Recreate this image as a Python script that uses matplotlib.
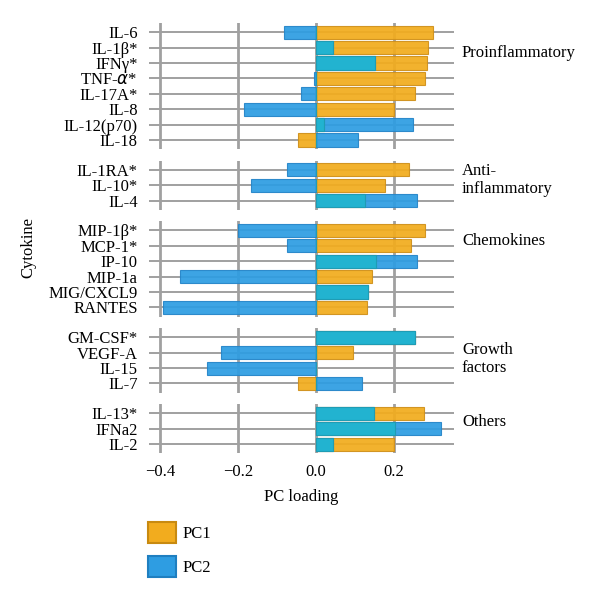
import numpy as np
import matplotlib.pyplot as plt
from matplotlib.patches import Patch

plt.rcParams['font.family'] = ['Liberation Serif', 'DejaVu Serif']
plt.rcParams['font.size'] = 12

# cytokine groups, top to bottom
groups = ['Proinflammatory', 'Anti-\ninflammatory', 'Chemokines', 'Growth\nfactors', 'Others']
labels = [
    ['IL-6', 'IL-1β*', 'IFNγ*', 'TNF-$\\alpha$*', 'IL-17A*', 'IL-8', 'IL-12(p70)', 'IL-18'],
    ['IL-1RA*', 'IL-10*', 'IL-4'],
    ['MIP-1β*', 'MCP-1*', 'IP-10', 'MIP-1a', 'MIG/CXCL9', 'RANTES'],
    ['GM-CSF*', 'VEGF-A', 'IL-15', 'IL-7'],
    ['IL-13*', 'IFNa2', 'IL-2'],
]
pc1 = [
    [0.300, 0.287, 0.285, 0.280, 0.254, 0.200, 0.021, -0.045],
    [0.238, 0.178, 0.126],
    [0.280, 0.244, 0.155, 0.145, 0.133, 0.131],
    [0.254, 0.095, 0.0, -0.045],
    [0.277, 0.203, 0.200],
]
pc2 = [
    [-0.082, 0.044, 0.151, -0.005, -0.039, -0.184, 0.248, 0.107],
    [-0.074, -0.167, 0.260],
    [-0.200, -0.073, 0.258, -0.349, 0.133, -0.392],
    [0.254, -0.244, -0.279, 0.117],
    [0.149, 0.320, 0.043],
]
# y position (in rows) of each group name
group_label_y = [1.35, 0.67, 0.71, 1.43, 0.54]

c_pc1 = '#F2AC1E'
c_pc2 = '#2E9DE2'
c_both = '#22B3D0'

W, H = 600, 605
fig = plt.figure(figsize=(W / 100, H / 100), dpi=100)

row = 15.39
top = 23.0
gap = 11.4
left, right = 149, 454

for gi, name in enumerate(groups):
    n = len(labels[gi])
    h = (n + 0.2) * row
    ax = fig.add_axes([left / W, 1 - (top + h) / H, (right - left) / W, h / H])
    top += h + gap

    y = np.arange(n)
    a = np.array(pc1[gi])
    b = np.array(pc2[gi])
    same = np.sign(a) == np.sign(b)
    both = np.where(same, np.sign(a) * np.minimum(np.abs(a), np.abs(b)), 0)

    for yy in y:
        ax.axhline(yy, color='#a0a0a0', lw=1.4, zorder=1)
    ax.barh(y, a, height=0.85, color=c_pc1, edgecolor='#D0901A', lw=0.8, alpha=0.93, zorder=3)
    ax.barh(y, b, height=0.85, color=c_pc2, edgecolor='#2585C8', lw=0.8, alpha=0.93, zorder=3)
    ax.barh(y, both, height=0.85, color=c_both, edgecolor='#1F9CB4', lw=0.8, zorder=4)

    ax.set_xlim(-0.428, 0.354)
    ax.set_ylim(n - 0.4, -0.6)
    ax.set_xticks([-0.4, -0.2, 0.0, 0.2])
    ax.grid(axis='x', color='#a0a0a0', lw=2, zorder=0)
    ax.set_axisbelow(True)
    ax.set_yticks(y)
    ax.set_yticklabels(labels[gi])
    ax.tick_params(axis='y', length=0, pad=8)
    ax.tick_params(axis='x', length=0, pad=8)
    if gi < len(groups) - 1:
        ax.set_xticklabels([])
    else:
        ax.set_xticklabels(['−0.4', '−0.2', '0.0', '0.2'])
    for s in ax.spines.values():
        s.set_visible(False)
    ax.text(1.026, group_label_y[gi], name, transform=ax.get_yaxis_transform(),
            ha='left', va='center', linespacing=1.15)

fig.text(28 / W, 1 - 247 / H, 'Cytokine', rotation=90, ha='center', va='center')
fig.text((left + right) / 2 / W, 1 - 497 / H, 'PC loading', ha='center', va='center')

handles = [Patch(facecolor=c_pc1, edgecolor='#C88A10', lw=1.5),
           Patch(facecolor=c_pc2, edgecolor='#1F7FC0', lw=1.5)]
fig.legend(handles, ['PC1', 'PC2'], loc='upper left',
           bbox_to_anchor=(133 / W, 1 - 507 / H), frameon=False,
           handlelength=1.65, handleheight=1.6, handletextpad=0.45,
           labelspacing=0.75)

fig.savefig('out.png', dpi=100)
